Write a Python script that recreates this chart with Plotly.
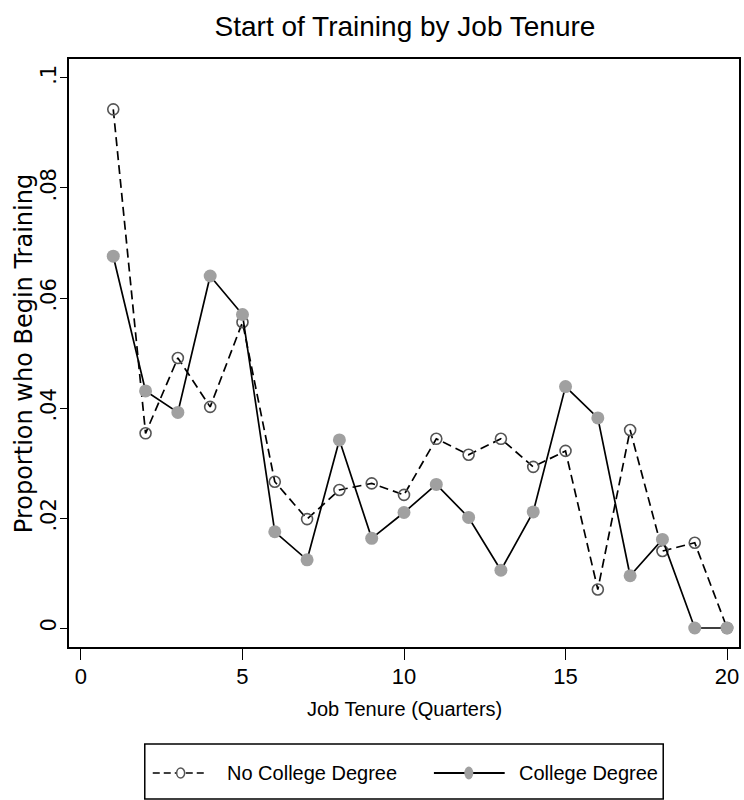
import plotly.graph_objects as go

# Job tenure in quarters
tenure = list(range(1, 21))

# Share of workers who begin training at each tenure
no_college = [0.0943, 0.0354, 0.0491, 0.0402, 0.0556, 0.0266, 0.0198, 0.0251, 0.0263, 0.0242,
              0.0344, 0.0315, 0.0344, 0.0293, 0.0322, 0.0070, 0.0360, 0.0140, 0.0155, 0.0]
college = [0.0676, 0.0431, 0.0392, 0.0640, 0.0570, 0.0175, 0.0124, 0.0342, 0.0163, 0.0210,
           0.0261, 0.0201, 0.0105, 0.0211, 0.0439, 0.0382, 0.0095, 0.0161, 0.0, 0.0]

y_ticks = [0, 0.02, 0.04, 0.06, 0.08, 0.1]
y_tick_text = ["0", ".02", ".04", ".06", ".08", ".1"]
x_ticks = [0, 5, 10, 15, 20]
series_names = ["No College Degree", "College Degree"]

W, H = 744, 800
L, R, T, B = 69, 3, 59, 153
PW, PH = W - L - R, H - T - B

SANS = "Liberation Sans Narrow, Arial Narrow, Liberation Sans, Arial, sans-serif"
WIDE = "DejaVu Sans, sans-serif"
GRAY = "#a0a0a0"
RING = "#555555"


def px(x):
    return (x - L) / PW


def py(y):
    return (H - B - y) / PH


fig = go.Figure()
fig.add_trace(go.Scatter(
    x=tenure, y=no_college, mode="lines+markers", name=series_names[0],
    line=dict(color="black", width=1.7, dash="9px,5px"),
    marker=dict(symbol="circle-open", size=11, color=RING, line=dict(width=1.6, color=RING)),
))
fig.add_trace(go.Scatter(
    x=tenure, y=college, mode="lines+markers", name=series_names[1],
    line=dict(color="black", width=1.7),
    marker=dict(symbol="circle", size=13, color=GRAY, line=dict(width=0)),
))

shapes = []
annotations = []

# legend box below the plot
shapes.append(dict(type="rect", xref="paper", yref="paper",
                   x0=px(145), x1=px(665), y0=py(799), y1=py(744),
                   line=dict(color="black", width=1.5), fillcolor="white"))
ly = py(773)
# dashed sample with open ring
shapes.append(dict(type="line", xref="paper", yref="paper", x0=px(153), x1=px(208), y0=ly, y1=ly,
                   line=dict(color="black", width=1.5, dash="7px,4px")))
shapes.append(dict(type="circle", xref="paper", yref="paper",
                   x0=px(177), x1=px(185), y0=py(778), y1=py(768),
                   line=dict(color=RING, width=1.5), fillcolor="white"))
# solid sample with filled dot
shapes.append(dict(type="line", xref="paper", yref="paper", x0=px(435), x1=px(506), y0=ly, y1=ly,
                   line=dict(color="black", width=2)))
shapes.append(dict(type="circle", xref="paper", yref="paper",
                   x0=px(465.5), x1=px(474.5), y0=py(779.5), y1=py(766.5),
                   line=dict(width=0), fillcolor=GRAY))
annotations.append(dict(xref="paper", yref="paper", x=px(225), y=ly, text=series_names[0],
                        showarrow=False, xanchor="left", yanchor="middle",
                        font=dict(family=SANS, size=20, color="black")))
annotations.append(dict(xref="paper", yref="paper", x=px(518), y=ly, text=series_names[1],
                        showarrow=False, xanchor="left", yanchor="middle",
                        font=dict(family=SANS, size=20, color="black")))

# axis titles
annotations.append(dict(xref="paper", yref="paper", x=px(405), y=py(709),
                        text="Job Tenure (Quarters)", showarrow=False,
                        xanchor="center", yanchor="middle",
                        font=dict(family=SANS, size=20, color="black")))
annotations.append(dict(xref="paper", yref="paper", x=px(24), y=py(354),
                        text="Proportion who Begin Training", showarrow=False, textangle=-90,
                        xanchor="center", yanchor="middle",
                        font=dict(family=WIDE, size=24, color="black")))

fig.update_layout(
    width=W, height=H,
    margin=dict(l=L, r=R, t=T, b=B, pad=0),
    paper_bgcolor="white", plot_bgcolor="white",
    showlegend=False,
    title=dict(text="Start of Training by Job Tenure", x=405 / W, xanchor="center",
               y=1 - 26 / H, yanchor="middle",
               font=dict(family=SANS, size=28, color="black")),
    shapes=shapes, annotations=annotations,
)
fig.update_xaxes(
    range=[-0.37, 20.37], tickvals=x_ticks, ticks="outside", ticklen=11, tickwidth=1.2,
    tickcolor="black", showline=True, linecolor="black", linewidth=1.5, mirror=True,
    showgrid=False, zeroline=False, ticklabelstandoff=-2,
    tickfont=dict(family=SANS, size=22, color="black"),
)
fig.update_yaxes(
    range=[-0.00345, 0.10345], tickvals=y_ticks, ticktext=y_tick_text, tickangle=-90,
    ticks="outside", ticklen=7, tickwidth=1.2, tickcolor="black",
    showline=True, linecolor="black", linewidth=1.5, mirror=True,
    showgrid=False, zeroline=False, ticklabelstandoff=-4,
    tickfont=dict(family=WIDE, size=21, color="black"),
)

fig.write_html("out.html")
